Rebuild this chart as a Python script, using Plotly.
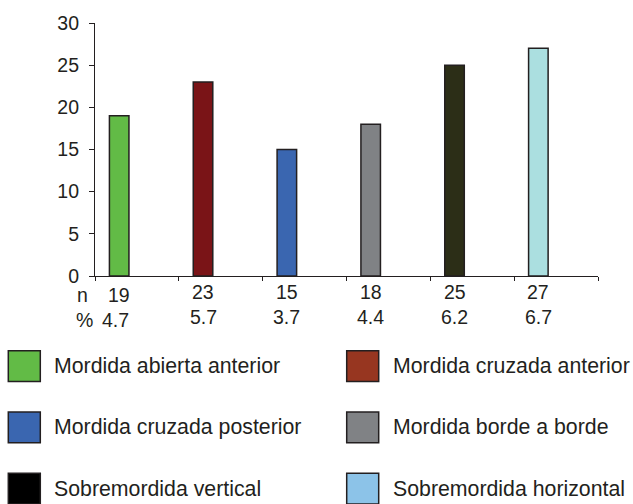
import plotly.graph_objects as go

# ---- data ----
categories = ["Mordida abierta anterior", "Mordida cruzada anterior",
              "Mordida cruzada posterior", "Mordida borde a borde",
              "Sobremordida vertical", "Sobremordida horizontal"]
n_values = [19, 23, 15, 18, 25, 27]
pct_labels = ["4.7", "5.7", "3.7", "4.4", "6.2", "6.7"]
bar_colors = ["#62bb46", "#7a1417", "#3a66b0", "#808285", "#2c2e17", "#abdfe0"]
legend_colors = ["#62bb46", "#973620", "#3a66b0", "#808285", "#000000", "#8cc3e8"]
y_ticks = [0, 5, 10, 15, 20, 25, 30]

FONT = "Liberation Sans, Arial, Helvetica, sans-serif"
TXT = "#231f20"
NUM_SIZE = 19.5
LEG_SIZE = 21.3
W, H = 633, 504
L, R, T, B = 95, 35, 20.7, 228
PW, PH = W - L - R, H - T - B

def px(x):  # pixel -> paper x
    return (x - L) / PW

def py(y):  # pixel -> paper y
    return (H - B - y) / PH

idx = list(range(len(categories)))

fig = go.Figure()
fig.add_trace(go.Bar(
    x=idx, y=n_values, width=0.233, offset=0.172,
    marker=dict(color=bar_colors, line=dict(color=TXT, width=1.5)),
    showlegend=False, hoverinfo="skip"))

fig.update_layout(
    width=W, height=H,
    margin=dict(l=L, r=R, t=T, b=B, pad=0),
    plot_bgcolor="white", paper_bgcolor="white",
    font=dict(family=FONT, color=TXT),
    xaxis=dict(range=[0, 6], tickvals=list(range(7)), showticklabels=False,
               ticks="outside", ticklen=4, tickcolor=TXT, tickwidth=1.2,
               showline=True, linecolor=TXT, linewidth=1.2,
               showgrid=False, zeroline=False, fixedrange=True),
    yaxis=dict(range=[0, 30], tickvals=y_ticks, ticks="outside", ticklen=5,
               tickcolor=TXT, tickwidth=1.2, showline=True, linecolor=TXT,
               linewidth=1.2, showgrid=False, zeroline=False,
               tickfont=dict(size=NUM_SIZE, color=TXT, family=FONT),
               ticklabelstandoff=6),
)

# n / % labels under the bars
ann = []
ann.append(dict(x=px(82.5), y=0, xref="paper", yref="paper", text="n",
                showarrow=False, yshift=-19, xanchor="center", yanchor="middle",
                font=dict(size=NUM_SIZE, color=TXT)))
ann.append(dict(x=px(84), y=0, xref="paper", yref="paper", text="%",
                showarrow=False, yshift=-44, xanchor="center", yanchor="middle",
                font=dict(size=NUM_SIZE, color=TXT)))
for i in idx:
    dy = 3 if i == 0 else 0
    ann.append(dict(x=i + 0.289, y=0, xref="x", yref="paper", text=str(n_values[i]),
                    showarrow=False, yshift=-16 - dy, xanchor="center", yanchor="middle",
                    font=dict(size=NUM_SIZE, color=TXT)))
    ann.append(dict(x=i + 0.289 - (0.04 if i == 0 else 0), y=0, xref="x", yref="paper",
                    text=pct_labels[i], showarrow=False, yshift=-41 - dy,
                    xanchor="center", yanchor="middle",
                    font=dict(size=NUM_SIZE, color=TXT)))

# custom legend (2 columns x 3 rows)
shapes = []
col_x = [8.3, 346.7]
row_y = [351.5, 413.3, 475]
sq_w, sq_h = 32, 31
for k, lab in enumerate(categories):
    c, r = k % 2, k // 2
    x0, y0 = col_x[c], row_y[r]
    shapes.append(dict(type="rect", xref="paper", yref="paper",
                       x0=px(x0), x1=px(x0 + sq_w), y0=py(y0 + sq_h), y1=py(y0),
                       fillcolor=legend_colors[k], line=dict(color=TXT, width=1.5)))
    ann.append(dict(x=px(x0 + sq_w + 12), y=py(y0 + sq_h / 2), xref="paper", yref="paper",
                    text=lab, showarrow=False, xanchor="left", yanchor="middle",
                    font=dict(size=LEG_SIZE, color=TXT)))

fig.update_layout(annotations=ann, shapes=shapes)
fig.write_html("out.html", config={"displayModeBar": False},
               post_script="document.body.style.margin='0';")
